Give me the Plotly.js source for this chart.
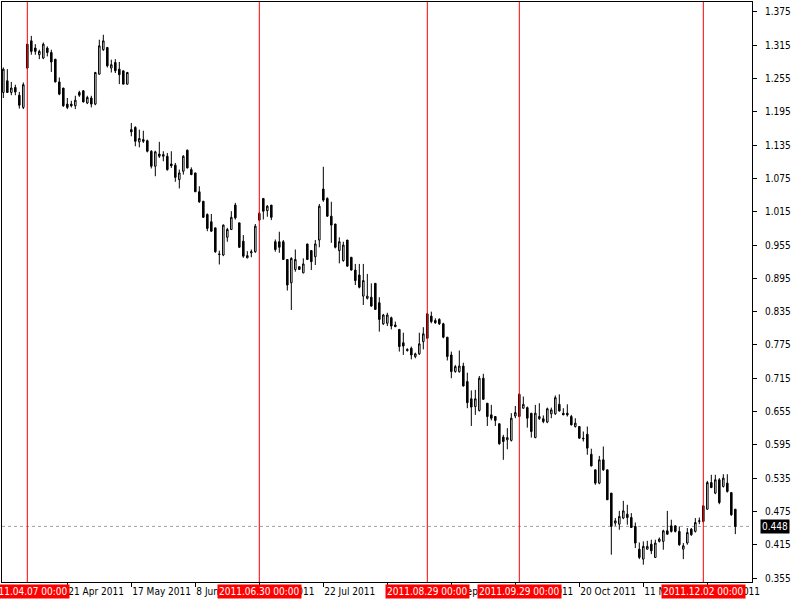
<!DOCTYPE html>
<html>
<head>
<meta charset="utf-8">
<script src="https://cdn.plot.ly/plotly-3.0.1.min.js"></script>
<style>
  html, body { margin: 0; padding: 0; background: #fff; }
  #chart { width: 800px; height: 600px; }
</style>
</head>
<body>
<div id="chart"></div>
<script>
// daily bars, oldest first (bar 6 = 2011.04.07, last bar = mid Dec 2011)
let open = [
  1.230, 1.251, 1.230, 1.239, 1.225, 1.203, 1.317, 1.323, 1.310, 1.298,
  1.292, 1.310, 1.302, 1.290, 1.249, 1.238, 1.209, 1.209, 1.206, 1.230,
  1.233, 1.211, 1.220, 1.209, 1.263, 1.307, 1.311, 1.274, 1.284, 1.272,
  1.269, 1.245, 1.163, 1.167, 1.141, 1.145, 1.143, 1.124, 1.097, 1.119,
  1.115, 1.115, 1.101, 1.099, 1.073, 1.088, 1.126, 1.091, 1.085, 1.051,
  1.034, 1.010, 0.997, 0.986, 0.939, 0.937, 0.969, 0.983, 1.027, 0.995,
  0.962, 0.932, 0.941, 0.943, 1.012, 1.039, 1.017, 1.027, 0.961, 0.961,
  0.961, 0.929, 0.887, 0.911, 0.916, 0.905, 0.957, 0.945, 0.934, 0.964,
  1.056, 1.039, 1.007, 0.993, 0.945, 0.927, 0.964, 0.933, 0.910, 0.901,
  0.863, 0.859, 0.861, 0.886, 0.851, 0.813, 0.814, 0.824, 0.811, 0.803,
  0.779, 0.767, 0.769, 0.754, 0.759, 0.781, 0.831, 0.827, 0.819, 0.821,
  0.813, 0.789, 0.757, 0.727, 0.727, 0.737, 0.709, 0.678, 0.664, 0.657,
  0.715, 0.670, 0.649, 0.646, 0.633, 0.609, 0.604, 0.603, 0.647, 0.686,
  0.661, 0.662, 0.652, 0.608, 0.642, 0.642, 0.636, 0.651, 0.651, 0.668,
  0.652, 0.652, 0.646, 0.628, 0.628, 0.607, 0.614, 0.578, 0.550, 0.526,
  0.568, 0.550, 0.508, 0.454, 0.452, 0.463, 0.470, 0.464, 0.448, 0.407,
  0.389, 0.407, 0.416, 0.392, 0.421, 0.421, 0.440, 0.449, 0.449, 0.439,
  0.407, 0.418, 0.443, 0.439, 0.457, 0.485, 0.479, 0.527, 0.508, 0.532,
  0.520, 0.526, 0.509, 0.479
];
let high = [
  1.275, 1.272, 1.249, 1.244, 1.231, 1.248, 1.317, 1.332, 1.317, 1.307,
  1.320, 1.313, 1.307, 1.290, 1.257, 1.238, 1.220, 1.215, 1.224, 1.233,
  1.234, 1.224, 1.224, 1.267, 1.325, 1.334, 1.312, 1.289, 1.290, 1.285,
  1.269, 1.267, 1.175, 1.169, 1.163, 1.161, 1.145, 1.126, 1.125, 1.141,
  1.124, 1.121, 1.124, 1.103, 1.091, 1.117, 1.127, 1.095, 1.085, 1.061,
  1.034, 1.012, 1.011, 0.986, 0.945, 0.992, 0.986, 1.016, 1.031, 0.995,
  0.973, 0.944, 0.947, 0.993, 1.015, 1.039, 1.027, 1.027, 0.965, 0.979,
  0.964, 0.929, 0.933, 0.947, 0.917, 0.931, 0.957, 0.946, 0.964, 1.029,
  1.096, 1.041, 1.033, 0.993, 0.969, 0.961, 0.964, 0.933, 0.921, 0.921,
  0.921, 0.903, 0.886, 0.886, 0.861, 0.831, 0.833, 0.826, 0.817, 0.803,
  0.797, 0.769, 0.772, 0.761, 0.797, 0.807, 0.833, 0.835, 0.823, 0.823,
  0.815, 0.789, 0.763, 0.739, 0.765, 0.743, 0.725, 0.693, 0.694, 0.719,
  0.723, 0.670, 0.667, 0.647, 0.633, 0.613, 0.625, 0.652, 0.665, 0.688,
  0.682, 0.664, 0.652, 0.667, 0.670, 0.648, 0.662, 0.662, 0.684, 0.686,
  0.661, 0.668, 0.649, 0.643, 0.628, 0.619, 0.628, 0.588, 0.550, 0.575,
  0.592, 0.550, 0.508, 0.463, 0.476, 0.494, 0.487, 0.472, 0.455, 0.419,
  0.421, 0.422, 0.424, 0.424, 0.428, 0.442, 0.476, 0.460, 0.449, 0.448,
  0.418, 0.445, 0.445, 0.463, 0.464, 0.486, 0.530, 0.541, 0.541, 0.535,
  0.542, 0.542, 0.509, 0.479
];
let low = [
  1.220, 1.229, 1.225, 1.225, 1.201, 1.200, 1.272, 1.298, 1.298, 1.290,
  1.290, 1.295, 1.267, 1.248, 1.225, 1.204, 1.200, 1.203, 1.200, 1.222,
  1.212, 1.209, 1.203, 1.207, 1.262, 1.305, 1.275, 1.266, 1.265, 1.245,
  1.245, 1.244, 1.151, 1.133, 1.131, 1.139, 1.122, 1.093, 1.079, 1.112,
  1.106, 1.089, 1.094, 1.069, 1.057, 1.082, 1.093, 1.081, 1.051, 1.031,
  1.004, 0.980, 0.979, 0.941, 0.920, 0.935, 0.961, 0.982, 1.001, 0.950,
  0.932, 0.931, 0.933, 0.941, 0.998, 1.001, 1.006, 1.000, 0.943, 0.941,
  0.928, 0.873, 0.838, 0.907, 0.910, 0.904, 0.928, 0.910, 0.919, 0.951,
  1.033, 1.006, 0.959, 0.949, 0.922, 0.925, 0.916, 0.909, 0.883, 0.877,
  0.847, 0.857, 0.844, 0.838, 0.799, 0.811, 0.809, 0.803, 0.807, 0.763,
  0.757, 0.763, 0.749, 0.751, 0.757, 0.767, 0.786, 0.814, 0.813, 0.811,
  0.787, 0.747, 0.715, 0.725, 0.725, 0.700, 0.661, 0.629, 0.649, 0.655,
  0.676, 0.629, 0.639, 0.629, 0.595, 0.568, 0.587, 0.601, 0.643, 0.645,
  0.660, 0.626, 0.608, 0.607, 0.640, 0.634, 0.634, 0.643, 0.649, 0.655,
  0.649, 0.646, 0.630, 0.626, 0.606, 0.601, 0.577, 0.556, 0.523, 0.524,
  0.548, 0.496, 0.397, 0.449, 0.442, 0.461, 0.451, 0.445, 0.409, 0.389,
  0.379, 0.406, 0.398, 0.391, 0.419, 0.406, 0.433, 0.437, 0.437, 0.413,
  0.389, 0.415, 0.431, 0.437, 0.452, 0.455, 0.478, 0.517, 0.506, 0.488,
  0.518, 0.509, 0.467, 0.434
];
let close = [
  1.272, 1.230, 1.238, 1.231, 1.207, 1.244, 1.274, 1.304, 1.304, 1.304,
  1.317, 1.302, 1.285, 1.249, 1.227, 1.206, 1.203, 1.206, 1.216, 1.225,
  1.213, 1.221, 1.209, 1.266, 1.314, 1.323, 1.278, 1.280, 1.269, 1.262,
  1.245, 1.266, 1.159, 1.142, 1.147, 1.142, 1.124, 1.097, 1.123, 1.115,
  1.118, 1.091, 1.098, 1.077, 1.085, 1.115, 1.094, 1.082, 1.051, 1.033,
  1.005, 0.985, 0.980, 0.943, 0.938, 0.991, 0.983, 1.005, 1.004, 0.951,
  0.935, 0.936, 0.943, 0.989, 1.000, 1.016, 1.025, 1.005, 0.947, 0.951,
  0.929, 0.883, 0.931, 0.929, 0.911, 0.921, 0.929, 0.925, 0.957, 1.025,
  1.036, 1.007, 0.991, 0.951, 0.961, 0.955, 0.917, 0.910, 0.891, 0.879,
  0.891, 0.863, 0.845, 0.839, 0.821, 0.829, 0.829, 0.809, 0.808, 0.772,
  0.773, 0.765, 0.757, 0.759, 0.777, 0.795, 0.787, 0.817, 0.815, 0.813,
  0.789, 0.754, 0.727, 0.736, 0.737, 0.701, 0.671, 0.663, 0.678, 0.715,
  0.677, 0.646, 0.643, 0.639, 0.597, 0.601, 0.608, 0.643, 0.653, 0.646,
  0.668, 0.643, 0.619, 0.652, 0.646, 0.637, 0.660, 0.658, 0.680, 0.656,
  0.649, 0.649, 0.631, 0.634, 0.607, 0.606, 0.589, 0.557, 0.526, 0.568,
  0.550, 0.496, 0.448, 0.458, 0.466, 0.476, 0.464, 0.446, 0.418, 0.392,
  0.412, 0.412, 0.404, 0.418, 0.425, 0.440, 0.434, 0.439, 0.439, 0.415,
  0.413, 0.437, 0.433, 0.455, 0.458, 0.457, 0.527, 0.518, 0.532, 0.491,
  0.535, 0.511, 0.469, 0.448
];

// time axis: bar index of each tick and its label
let tickBars = [16, 32, 48, 64, 80, 96, 112, 128, 144, 160, 176];
let tickLabels = ['21 Apr 2011', '17 May 2011', '8 Jun 2011', '30 Jun 2011', '22 Jul 2011',
  '15 Aug 2011', '6 Sep 2011', '28 Sep 2011', '20 Oct 2011', '11 Nov 2011', '5 Dec 2011'];

// vertical line objects
let vlineBars = [6, 64, 106, 129, 175];
let vlineLabels = ['2011.04.07 00:00', '2011.06.30 00:00', '2011.08.29 00:00',
  '2011.09.29 00:00', '2011.12.02 00:00'];

let bid = 0.448;

let x = open.map(function(v, i) { return i; });
let fontFamily = '"DejaVu Sans Condensed", "DejaVu Sans", sans-serif';

let candles = {
    type: 'candlestick',
    x: x,
    open: open,
    high: high,
    low: low,
    close: close,
    whiskerwidth: 0,
    increasing: { line: { color: '#000000', width: 1 }, fillcolor: '#ffffff' },
    decreasing: { line: { color: '#000000', width: 1 }, fillcolor: '#000000' },
    hoverinfo: 'skip'
};

let shapes = vlineBars.map(function(b) {
    return {
        type: 'line', xref: 'x', yref: 'paper',
        x0: b, x1: b, y0: 0, y1: 1,
        line: { color: '#ff0000', width: 1 }
    };
});
shapes.push({
    type: 'line', xref: 'paper', yref: 'y',
    x0: 0, x1: 1, y0: bid, y1: bid,
    line: { color: '#a0a0a0', width: 1, dash: 'dot' },
    layer: 'below'
});

let annotations = vlineBars.map(function(b, i) {
    return {
        xref: 'x', yref: 'paper', x: b, y: 0,
        xanchor: 'center', yanchor: 'top', yshift: -2,
        text: vlineLabels[i], showarrow: false,
        bgcolor: '#ff0000', borderpad: 1,
        font: { family: fontFamily, size: 10, color: '#ffffff' }
    };
});
annotations.push({
    xref: 'paper', yref: 'y', x: 1, y: bid,
    xanchor: 'left', yanchor: 'middle', xshift: 8,
    text: bid.toFixed(3), showarrow: false,
    bgcolor: '#000000', borderpad: 1,
    font: { family: fontFamily, size: 10, color: '#ffffff' }
});

let layout = {
    width: 800,
    height: 600,
    margin: { l: 2, r: 48, t: 2, b: 18 },
    paper_bgcolor: '#ffffff',
    plot_bgcolor: '#ffffff',
    showlegend: false,
    boxgap: 0.45,
    font: { family: fontFamily, size: 10, color: '#000000' },
    xaxis: {
        range: [-0.33, 187.17],
        showgrid: false, zeroline: false,
        showline: true, mirror: true, linecolor: '#000000', linewidth: 1,
        ticks: 'outside', ticklen: 4, tickcolor: '#000000',
        tickvals: tickBars, ticktext: tickLabels,
        tickangle: 0,
        ticklabelposition: 'outside right',
        ticklabelstandoff: 0,
        rangeslider: { visible: false },
        fixedrange: true
    },
    yaxis: {
        side: 'right',
        range: [0.3478, 1.393],
        tick0: 0.355, dtick: 0.06, tickformat: '.3f',
        showgrid: false, zeroline: false,
        showline: true, mirror: true, linecolor: '#000000', linewidth: 1,
        ticks: 'outside', ticklen: 4, tickcolor: '#000000',
        ticklabelstandoff: 6,
        fixedrange: true
    },
    shapes: shapes,
    annotations: annotations
};

Plotly.newPlot('chart', [candles], layout, { displayModeBar: false, staticPlot: true });
</script>
</body>
</html>
